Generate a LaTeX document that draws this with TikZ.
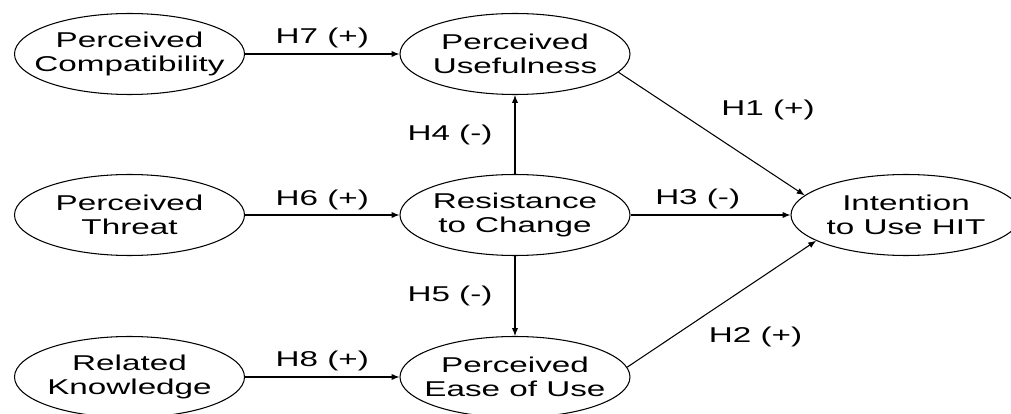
\documentclass[tikz,border=0pt]{standalone}
\usepackage{fontspec}
\setmainfont[FakeStretch=1.55]{Liberation Sans}
\usepackage{tikz}
\usetikzlibrary{arrows.meta, positioning, shapes.geometric}

\begin{document}
\begin{tikzpicture}[
      font=\fontsize{12.2}{13.7}\selectfont,
      construct/.style={draw, ellipse, line width=0.6pt, minimum width=4.6cm,
                        minimum height=1.62cm, inner xsep=-0.35cm, inner ysep=0pt,
                        align=center},
      path/.style={-{Latex[length=4.5pt, width=3.6pt]}, line width=0.6pt},
      hyp/.style={inner sep=0pt}
    ]
    \useasboundingbox (0,0) rectangle (20.22,8.28);
    \node[construct] (compat) at (2.59,7.2) {Perceived\\Compatibility};
    \node[construct] (threat) at (2.59,3.98) {Perceived\\Threat};
    \node[construct] (know) at (2.59,0.74) {Related\\Knowledge};
    \node[construct] (useful) at (10.3,7.2) {Perceived\\Usefulness};
    \node[construct] (resist) at (10.3,3.98) {Resistance\\to Change};
    \node[construct] (ease) at (10.3,0.74) {Perceived\\Ease of Use};
    \node[construct] (intent) at (18.12,3.98) {Intention\\to Use HIT};
    \draw[path] (compat) -- node[hyp, above=0.12cm]{H7 (+)} (useful);
    \draw[path] (threat) -- node[hyp, above=0.1cm]{H6 (+)} (resist);
    \draw[path] (know) -- node[hyp, above=0.12cm]{H8 (+)} (ease);
    \draw[path] (resist) -- node[hyp, left=0.44cm]{H4 (-)} (useful);
    \draw[path] (resist) -- node[hyp, left=0.44cm]{H5 (-)} (ease);
    \draw[path] (resist) -- node[hyp, pos=0.42, above=0.12cm]{H3 (-)} (intent);
    \draw[path] (useful.-10) -- node[hyp, pos=0.55, above right=0.38cm and 0cm]{H1 (+)} (intent.169);
    \draw[path] (ease.5) -- node[hyp, pos=0.43, below right=0.28cm and 0cm]{H2 (+)} (intent.196);
  \end{tikzpicture}
\end{document}
